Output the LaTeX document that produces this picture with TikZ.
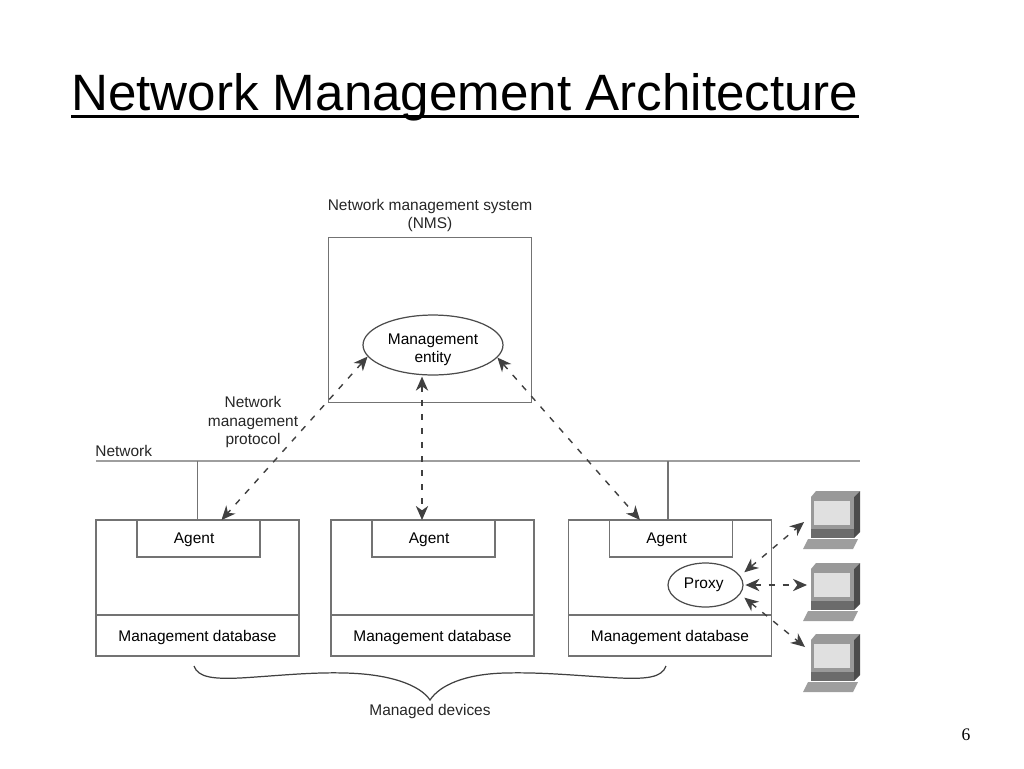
\documentclass[tikz,border=0pt]{standalone}
\usepackage{fontspec}
\setmainfont{Liberation Sans}
\newfontfamily\pagefont{Liberation Serif}
\usetikzlibrary{calc}
\usetikzlibrary{shapes.geometric}
\usetikzlibrary{positioning}
\usetikzlibrary{arrows.meta}
\definecolor{rule}{gray}{0.45}
\tikzstyle{device} = [rectangle, draw=rule, line width=0.7pt, minimum width=4.06cm,
    minimum height=1.9cm, outer sep=0pt]
\tikzstyle{database} = [rectangle, draw=rule, line width=0.7pt, minimum width=4.06cm,
    minimum height=0.82cm, outer sep=0pt, text depth=0pt, font=\fontsize{8.8}{10.3}\selectfont]
\tikzstyle{agent} = [rectangle, draw=rule, line width=0.7pt, minimum width=2.46cm,
    minimum height=0.74cm, outer sep=0pt, xshift=0.02cm, text depth=0pt,
    execute at end node=\hspace{5pt}, font=\fontsize{8.8}{10.3}\selectfont]
\tikzstyle{entity} = [ellipse, draw=black!70, line width=0.7pt, inner sep=0pt,
    align=center, font=\fontsize{8.8}{10.3}\selectfont]
\tikzstyle{label} = [align=center, inner sep=0pt, text=black!85,
    font=\fontsize{8.8}{10.3}\selectfont]
\tikzstyle{line} = [draw=black!75, line width=0.8pt, dash pattern=on 3.5pt off 4.5pt,
    {Stealth[length=8pt,width=7pt,inset=2.5pt]}-{Stealth[length=8pt,width=7pt,inset=2.5pt]}]
\tikzstyle{stem} = [draw=rule, line width=0.7pt]
\tikzset{
  pics/computer/.style={code={
    \fill[black!40] (8,7) -- (13,1) -- (57,1) -- (51,7) -- cycle;
    \fill[black!70] (51,7) -- (57,1) -- (57,42) -- (51,48) -- cycle;
    \fill[black!40] (8,7) rectangle (51,48);
    \fill[black!58] (8,39) rectangle (51,48);
    \fill[black!12] (11,11) rectangle (47,35);
    \fill[black!38] (0,59) -- (5,49) -- (55,49) -- (50,59) -- cycle;
  }}
}
\begin{document}
\begin{tikzpicture}[x=0.02cm, y=-0.02cm]
    \useasboundingbox (0,0) rectangle (1024,768);
    % Place nodes
    \node[anchor=west, inner sep=0pt, font=\fontsize{29.1}{35}\selectfont] (title) at (71,97) {Network Management Architecture};
    \node[draw=rule, line width=0.7pt, minimum width=4.06cm, minimum height=3.3cm, outer sep=0pt] (nms) at (430,320) {};
    \node[label, above=3pt of nms.north] (nmslabel) {Network management system\\(NMS)};
    \node[entity, minimum width=2.8cm, minimum height=1.14cm] (mgmt) at (433,345) {\rule{0pt}{12pt}Management\\entity};
    \node[device] (device1) at (197.5,567.5) {};
    \node[device] (device2) at (432.5,567.5) {};
    \node[device] (device3) at (670,567.5) {};
    \node[database, below=0pt of device1.south] (db1) {Management database};
    \node[database, below=0pt of device2.south] (db2) {Management database};
    \node[database, below=0pt of device3.south] (db3) {Management database};
    \node[agent, below=0pt of device1.north] (agent1) {Agent};
    \node[agent, below=0pt of device2.north] (agent2) {Agent};
    \node[agent, below=0pt of device3.north] (agent3) {Agent};
    \node[entity, minimum width=1.5cm, minimum height=0.88cm, execute at end node=\hspace{2pt}] (proxy) at (705.5,585) {Proxy};
    \node[label, anchor=west] (network) at (95,451) {Network};
    \node[label] (protocol) at (253,422) {Network\\management\\protocol};
    \node[label] (managed) at (430,711) {Managed devices};
    \node[inner sep=0pt, font=\pagefont\fontsize{10}{12}\selectfont] (page) at (966,735) {6};
    % Place computers
    \pic at (803,490) {computer};
    \pic at (803,562) {computer};
    \pic at (803,633) {computer};
    \coordinate (pc1) at (804,522);
    \coordinate (pc2) at (807,585);
    \coordinate (pc3) at (805,647);
    \coordinate (netwest) at (96,461);
    \coordinate (neteast) at (860,461);
    \coordinate (stem3) at (668,520);
    % Draw network
    \path [stem, draw=black!38, line width=1pt] (netwest) -- (neteast);
    \path [stem] (device1.north |- netwest) -- (device1.north);
    \path [stem] (stem3 |- netwest) -- (stem3);
    % Draw edges
    \path [line] (mgmt.190) -- ($(agent1.north)+(23,0)$);
    \path [line] (mgmt.south) ++(-11,1) -- ($(agent2.north)+(-11.5,0)$);
    \path [line] (mgmt.-11) -- ($(agent3.north)+(-31,0)$);
    \path [line, shorten <=3pt] (proxy.15) -- (pc1);
    \path [line, shorten <=1pt] (proxy.east) -- (pc2);
    \path [line, shorten <=3pt] (proxy.-15) -- (pc3);
    % Draw underline and brace
    \draw[black, line width=1.5pt] ($(title.south west)+(0,-5)$) -- ($(title.south east)+(0,-5)$);
    \draw[black!75, line width=0.7pt] (194,666) .. controls (198,678) and (215,679) .. (240,678)
        .. controls (275,676) and (310,672) .. (345,673)
        .. controls (390,674) and (420,685) .. (430,700)
        .. controls (440,685) and (465,674) .. (505,673)
        .. controls (545,672) and (580,676) .. (620,678)
        .. controls (645,679) and (662,678) .. (666,666);
\end{tikzpicture}
\end{document}
